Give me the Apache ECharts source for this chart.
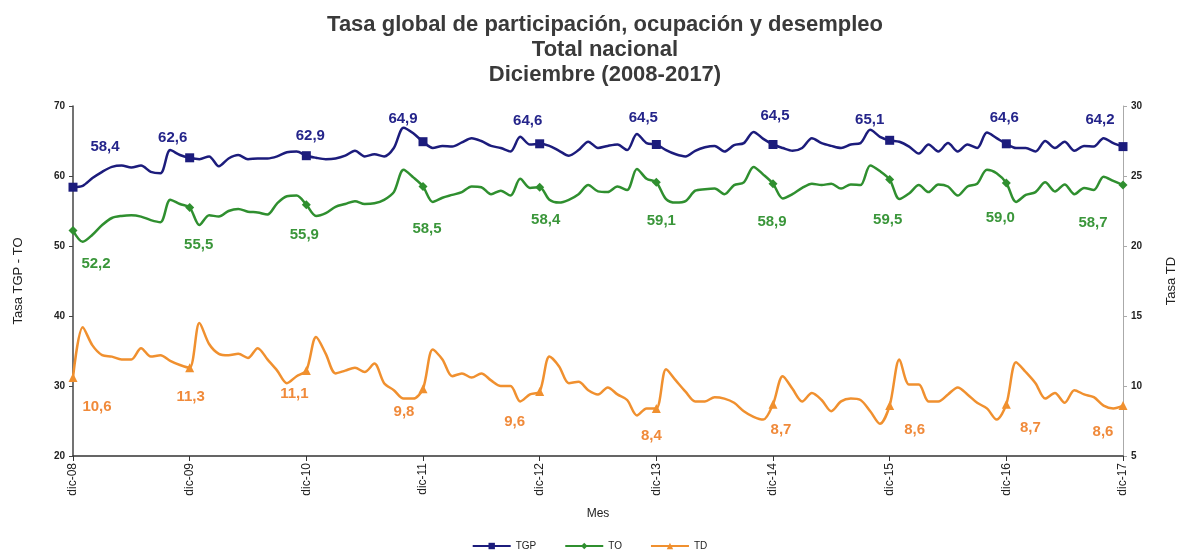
<!DOCTYPE html>
<html>
<head>
<meta charset="utf-8">
<script src="https://cdn.jsdelivr.net/npm/echarts@6/dist/echarts.min.js"></script>
<style>
  html, body { margin: 0; padding: 0; background: #fff; }
  #chart { width: 1179px; height: 556px; }
</style>
</head>
<body>
<div id="chart"></div>
<script>
// meses (dic-08 .. dic-17)
const years = ['08', '09', '10', '11', '12', '13', '14', '15', '16', '17']
const monthNames = ['ene', 'feb', 'mar', 'abr', 'may', 'jun', 'jul', 'ago', 'sep', 'oct', 'nov', 'dic']

// Tasa global de participacion
const tgp = [
  58.4, 58.6, 59.7, 60.6, 61.3, 61.5, 61.2, 61.5, 60.6, 60.4, 63.7, 63.0, 62.6,
  62.4, 62.8, 61.4, 62.5, 63.0, 62.4, 62.5, 62.5, 62.8, 63.4, 63.5, 62.9,
  62.6, 62.4, 62.5, 62.9, 63.6, 62.8, 63.1, 62.8, 64.0, 66.9, 66.1, 64.9,
  64.0, 64.3, 64.2, 64.8, 65.4, 65.0, 64.3, 64.0, 63.5, 65.6, 64.5, 64.6,
  64.3, 63.6, 62.9, 63.7, 64.9, 64.0, 64.3, 64.5, 63.7, 66.0, 64.7, 64.5,
  63.7, 63.1, 62.8, 63.6, 64.1, 64.3, 63.5, 64.4, 64.7, 66.3, 65.3, 64.5,
  64.0, 63.6, 64.0, 65.4, 64.7, 64.3, 64.0, 64.5, 64.7, 66.6, 65.6, 65.1,
  64.9, 64.2, 63.2, 64.5, 63.5, 64.7, 63.5, 64.5, 64.0, 66.2, 65.4, 64.6,
  64.0, 64.0, 63.5, 65.0, 64.0, 64.9, 63.6, 64.3, 64.2, 65.4, 64.7, 64.2
]
// Tasa de ocupacion
const to = [
  52.2, 50.6, 51.6, 53.0, 54.0, 54.3, 54.4, 54.2, 53.7, 53.4, 56.6, 56.0, 55.5,
  53.0, 54.4, 54.2, 55.0, 55.3, 54.9, 54.8, 54.5, 56.1, 57.1, 57.2, 55.9,
  54.3, 54.7, 55.6, 56.0, 56.4, 56.0, 56.1, 56.6, 57.7, 60.9, 59.8, 58.5,
  56.3, 56.9, 57.3, 57.7, 58.5, 58.4, 57.4, 57.9, 57.2, 59.6, 58.3, 58.4,
  56.6, 56.2, 56.6, 57.4, 58.7, 57.8, 57.7, 58.5, 58.0, 61.0, 59.6, 59.1,
  56.7, 56.2, 56.4, 57.9, 58.1, 58.2, 57.4, 58.7, 59.1, 61.3, 60.2, 58.9,
  56.8, 57.4, 58.3, 58.9, 58.7, 58.9, 58.2, 58.8, 58.7, 61.5, 60.7, 59.5,
  56.7, 57.5, 58.7, 57.7, 58.8, 58.5, 57.2, 58.5, 58.9, 60.9, 60.4, 59.0,
  56.3, 57.3, 57.7, 59.1, 57.8, 58.8, 57.4, 58.3, 58.0, 59.9, 59.3, 58.7
]
// Tasa de desempleo (eje derecho)
const td = [
  10.6, 14.2, 12.9, 12.2, 12.1, 11.9, 11.9, 12.7, 12.1, 12.2, 11.8, 11.5, 11.3,
  14.5, 13.0, 12.3, 12.2, 12.3, 12.0, 12.7, 11.9, 11.1, 10.2, 10.7, 11.1,
  13.5, 12.3, 10.9, 11.1, 11.3, 11.0, 11.6, 10.2, 9.7, 9.1, 9.1, 9.8,
  12.6, 11.9, 10.7, 10.9, 10.6, 10.9, 10.4, 10.0, 10.0, 8.9, 9.4, 9.6,
  12.1, 11.4, 10.2, 10.3, 9.7, 9.4, 9.9, 9.4, 9.0, 7.9, 8.4, 8.4,
  11.2, 10.4, 9.6, 8.9, 8.9, 9.2, 9.1, 8.8, 8.2, 7.8, 7.6, 8.7,
  10.7, 9.8, 8.9, 9.5, 9.0, 8.2, 8.9, 9.1, 9.0, 8.2, 7.3, 8.6,
  11.9, 10.1, 10.1, 8.9, 8.9, 9.4, 9.9, 9.4, 8.8, 8.4, 7.6, 8.7,
  11.7, 11.0, 10.2, 9.1, 9.5, 8.8, 9.7, 9.4, 9.2, 8.6, 8.4, 8.6
]

// desplazamiento de las etiquetas de diciembre
const tgpLabelOffsets = [[32, -40], [-17, -20], [4, -20], [-20, -23], [-12, -23], [-13, -27], [2, -29], [-20, -20], [-2, -26], [-23, -27]]
const toLabelOffsets = [[23, 33], [9, 37], [-2, 30], [4, 42], [6, 33], [5, 39], [-1, 38], [-2, 40], [-6, 35], [-30, 38]]
const tdLabelOffsets = [[24, 29], [1, 29], [-12, 23], [-19, 23], [-25, 30], [-5, 27], [8, 26], [25, 24], [24, 24], [-20, 26]]

let categories = ['dic-' + years[0]]
for (let y = 1; y < years.length; y++) {
  monthNames.forEach(m => categories.push(m + '-' + years[y]))
}

const FONT = 'Liberation Sans, Arial, sans-serif'

function buildData(values, offsets) {
  return values.map((v, i) => {
    if (i % 12 !== 0) return v
    return { value: v, label: { show: true, offset: offsets[i / 12] } }
  })
}

function makeSeries(name, values, offsets, color, labelColor, symbol, size, yIndex) {
  return {
    name: name,
    type: 'line',
    yAxisIndex: yIndex,
    data: buildData(values, offsets),
    smooth: 0.3,
    symbol: symbol,
    symbolSize: function (val, params) {
      return params.dataIndex % 12 === 0 ? size : 0
    },
    showAllSymbol: true,
    lineStyle: { color: color, width: 2.5 },
    itemStyle: { color: color },
    label: {
      show: false,
      position: 'inside',
      color: labelColor,
      fontFamily: FONT,
      fontWeight: 'bold',
      fontSize: 15,
      formatter: p => p.value.toFixed(1).replace('.', ',')
    },
    emphasis: { disabled: true }
  }
}

const chart = echarts.init(document.getElementById('chart'))
chart.setOption({
  animation: false,
  backgroundColor: '#fff',
  title: {
    text: 'Tasa global de participación, ocupación y desempleo\nTotal nacional\nDiciembre (2008-2017)',
    left: 600,
    top: 7,
    textAlign: 'center',
    textStyle: {
      fontFamily: FONT,
      fontWeight: 'bold',
      fontSize: 22,
      lineHeight: 25,
      color: '#3a3a3a'
    }
  },
  legend: {
    bottom: 0,
    left: 'center',
    itemWidth: 38,
    itemHeight: 8,
    itemGap: 28,
    textStyle: { fontFamily: FONT, fontSize: 10, color: '#222' },
    data: ['TGP', 'TO', 'TD']
  },
  grid: { left: 73, right: 56, top: 106, bottom: 100, outerBoundsMode: 'none' },
  xAxis: {
    type: 'category',
    data: categories,
    boundaryGap: false,
    name: 'Mes',
    nameLocation: 'middle',
    nameGap: 52,
    nameTextStyle: { fontFamily: FONT, fontSize: 12, color: '#222' },
    axisLine: { lineStyle: { color: '#333', width: 1.5 } },
    axisTick: { interval: 11, length: 5, lineStyle: { color: '#333' } },
    axisLabel: {
      interval: 11,
      rotate: 90,
      margin: 7,
      fontFamily: FONT,
      fontSize: 12,
      color: '#222'
    },
    splitLine: { show: false }
  },
  yAxis: [
    {
      type: 'value',
      min: 20,
      max: 70,
      interval: 10,
      name: 'Tasa TGP - TO',
      nameLocation: 'middle',
      nameRotate: 90,
      nameGap: 48,
      nameTextStyle: { fontFamily: FONT, fontSize: 13, color: '#222' },
      axisLine: { show: true, lineStyle: { color: '#444', width: 1.5 } },
      axisTick: { show: true, length: 4, lineStyle: { color: '#444' } },
      axisLabel: { fontFamily: FONT, fontSize: 10, fontWeight: 'bold', color: '#222', margin: 8 },
      splitLine: { show: false }
    },
    {
      type: 'value',
      min: 5,
      max: 30,
      interval: 5,
      position: 'right',
      name: 'Tasa TD',
      nameLocation: 'middle',
      nameRotate: 90,
      nameGap: 42,
      nameTextStyle: { fontFamily: FONT, fontSize: 13, color: '#222' },
      axisLine: { show: true, lineStyle: { color: '#aaa', width: 1 } },
      axisTick: { show: true, length: 4, lineStyle: { color: '#aaa' } },
      axisLabel: { fontFamily: FONT, fontSize: 10, fontWeight: 'bold', color: '#222', margin: 8 },
      splitLine: { show: false }
    }
  ],
  series: [
    makeSeries('TGP', tgp, tgpLabelOffsets, '#1c1c7c', '#24248a', 'rect', 9, 0),
    makeSeries('TO', to, toLabelOffsets, '#2f8f2f', '#3a963a', 'diamond', 9, 0),
    makeSeries('TD', td, tdLabelOffsets, '#f0902f', '#f08a3a', 'triangle', 9, 1)
  ]
})
</script>
</body>
</html>
